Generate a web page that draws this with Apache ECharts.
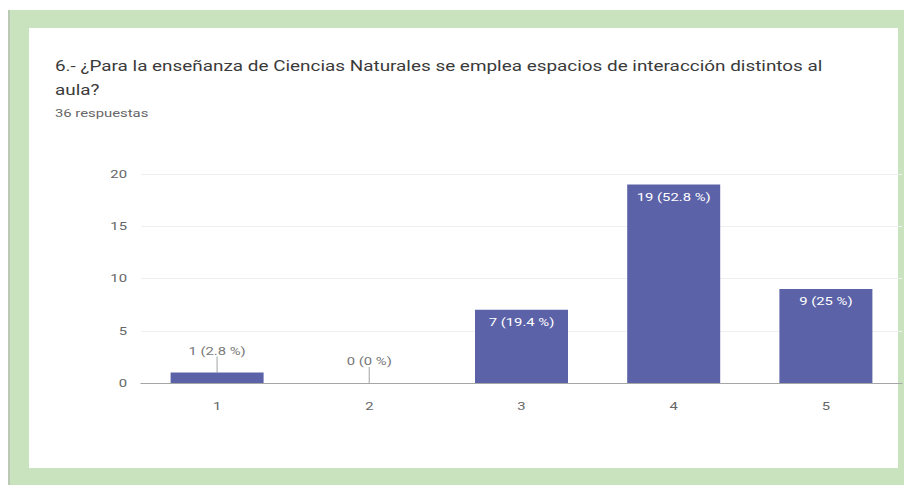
<!DOCTYPE html>
<html>
<head>
<meta charset="utf-8">
<script src="https://cdn.jsdelivr.net/npm/echarts@6/dist/echarts.min.js"></script>
<style>
html,body{margin:0;padding:0;background:#fff;overflow:hidden;}
#wrap{width:904px;height:486px;overflow:hidden;}
#chart{width:670px;height:486px;transform:scaleX(1.35);transform-origin:0 0;}
</style>
</head>
<body>
<div id="wrap"><div id="chart"></div></div>
<script>
var titleText = '6.- ¿Para la enseñanza de Ciencias Naturales se emplea espacios de interacción distintos al\naula?';
var subtitleText = '36 respuestas';
var categories = ['1', '2', '3', '4', '5'];
var counts = [1, 0, 7, 19, 9];
var percents = ['2.8', '0', '19.4', '52.8', '25'];
var yTicks = [0, 5, 10, 15, 20];

var S = 1.35; // horizontal stretch of the reference image
function X(v) { return v / S; }

var chart = echarts.init(document.getElementById('chart'), null, {renderer: 'svg'});
var FONT = 'Roboto, "Open Sans", sans-serif';
var barColor = '#5b62a8';

var data = counts.map(function (v) {
  var small = v < 3;
  return {
    value: v,
    label: small ? {
      position: 'top', distance: 14, color: '#777', fontSize: 11
    } : {
      position: 'insideTop', distance: 7, color: '#fff', fontSize: 11
    },
    labelLine: small ? {show: true, lineStyle: {color: '#bbb', width: 1}} : {show: false}
  };
});

chart.setOption({
  animation: false,
  backgroundColor: '#ffffff',
  graphic: [
    {type: 'rect', shape: {x: X(8), y: 10, width: X(896), height: 475}, style: {fill: '#c8e3bd'}, z: -10},
    {type: 'rect', shape: {x: X(8), y: 10, width: X(2), height: 475}, style: {fill: '#b9c9b3'}, z: -9},
    {type: 'rect', shape: {x: X(29), y: 28, width: X(869), height: 440}, style: {fill: '#ffffff'}, z: -8}
  ],
  title: [
    {
      text: titleText, left: X(55), top: 54, padding: 0,
      textStyle: {fontFamily: FONT, fontSize: 14, fontWeight: 'normal', color: '#3a3a3a', lineHeight: 24}
    },
    {
      text: subtitleText, left: X(55), top: 108, padding: 0,
      textStyle: {fontFamily: FONT, fontSize: 11, fontWeight: 'normal', color: '#666'}
    }
  ],
  grid: {left: X(141), top: 174, width: X(761), height: 209, containLabel: false},
  xAxis: {
    type: 'category',
    data: categories,
    axisLine: {show: true, lineStyle: {color: '#a6a6a6', width: 1}},
    axisTick: {show: false},
    axisLabel: {color: '#666', fontSize: 11, margin: 18, fontFamily: FONT}
  },
  yAxis: {
    type: 'value', min: 0, max: 20, interval: 5,
    axisLine: {show: false}, axisTick: {show: false},
    axisLabel: {color: '#666', fontSize: 11, margin: X(14), fontFamily: FONT,
      formatter: function (v) { return yTicks.indexOf(v) >= 0 ? String(v) : ''; }},
    splitLine: {lineStyle: {color: '#efefef', width: 1}}
  },
  series: [{
    type: 'bar',
    data: data,
    barWidth: X(93),
    itemStyle: {color: barColor},
    label: {
      show: true, fontFamily: FONT,
      formatter: function (p) { return counts[p.dataIndex] + ' (' + percents[p.dataIndex] + ' %)'; }
    },
    labelLayout: function (p) {
      if (counts[p.dataIndex] < 3) {
        return {dy: -2};
      }
      return {};
    }
  }]
});
</script>
</body>
</html>
